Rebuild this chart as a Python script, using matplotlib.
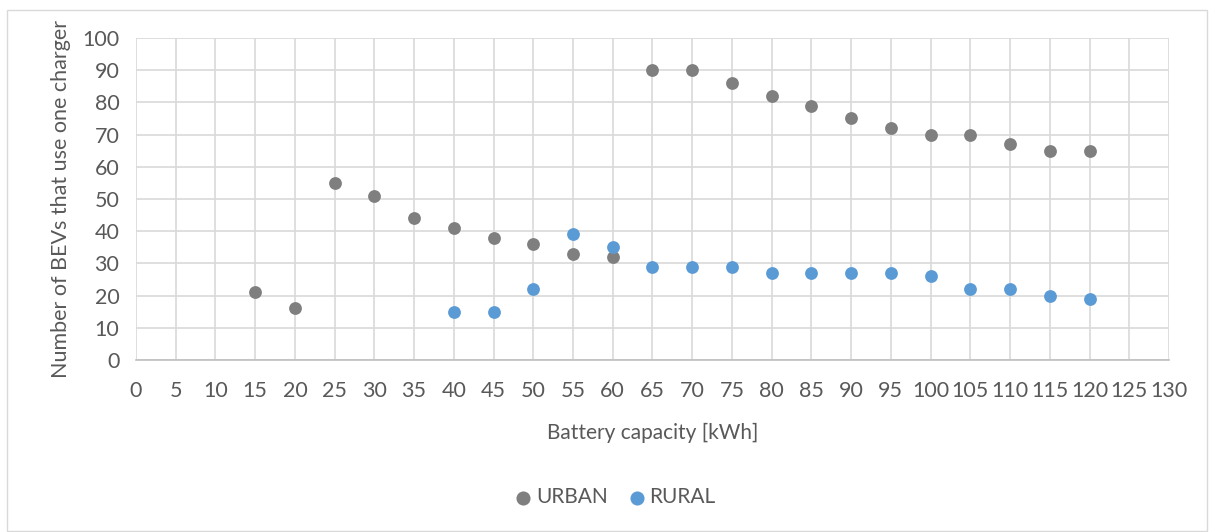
import matplotlib
matplotlib.use('Agg')
import matplotlib.pyplot as plt
from matplotlib.patches import Rectangle

# ── Data ──────────────────────────────────────────────────────────────
urban_x = [15, 20, 25, 30, 35, 40, 45, 50, 55, 60, 65, 70, 75, 80, 85, 90, 95, 100, 105, 110, 115, 120]
urban_y = [21, 16, 55, 51, 44, 41, 38, 36, 33, 32, 90, 90, 86, 82, 79, 75, 72, 70, 70, 67, 65, 65]

rural_x = [40, 45, 50, 55, 60, 65, 70, 75, 80, 85, 90, 95, 100, 105, 110, 115, 120]
rural_y = [15, 15, 22, 39, 35, 29, 29, 29, 27, 27, 27, 27, 26, 22, 22, 20, 19]

x_ticks = list(range(0, 131, 5))
y_ticks = list(range(0, 101, 10))

# ── Style ─────────────────────────────────────────────────────────────
plt.rcParams['font.family'] = ['Lato', 'DejaVu Sans']
txt = '#595959'

fig = plt.figure(figsize=(12.12, 5.32), dpi=100)
ax = fig.add_axes([0.1122, 0.3233, 0.8523, 0.6053])

ax.scatter(urban_x, urban_y, s=85, color='#7f7f7f', label='URBAN', zorder=3, linewidths=0)
ax.scatter(rural_x, rural_y, s=85, color='#5b9bd5', label='RURAL', zorder=3, linewidths=0)

ax.set_xlim(0, 130)
ax.set_ylim(0, 100)
ax.set_xticks(x_ticks)
ax.set_yticks(y_ticks)
ax.grid(True, color='#d9d9d9', linewidth=1.2)
ax.set_axisbelow(True)
for s in ['top', 'right', 'left']:
    ax.spines[s].set_visible(False)
ax.spines['bottom'].set_color('#bfbfbf')
ax.spines['bottom'].set_linewidth(1.2)
ax.tick_params(length=0, labelsize=15.5, colors=txt)
ax.tick_params(axis='x', pad=15)
ax.tick_params(axis='y', pad=12)

ax.set_xlabel('Battery capacity [kWh]', fontsize=15, color=txt, labelpad=16)
ax.set_ylabel('Number of BEVs that use one charger', fontsize=15.5, color=txt, labelpad=8)

fig.legend(loc='center', bbox_to_anchor=(0.506, 0.065), ncol=2, frameon=False,
           fontsize=15, labelcolor=txt, handletextpad=0.0, columnspacing=0.8,
           handlelength=1.2, scatterpoints=1, markerscale=1.1)

fig.patches.append(Rectangle((7 / 1212, 1 / 532), 1200 / 1212, 521 / 532,
                             transform=fig.transFigure, fill=False,
                             edgecolor='#d9d9d9', linewidth=1))

fig.savefig('out.png', dpi=100)
